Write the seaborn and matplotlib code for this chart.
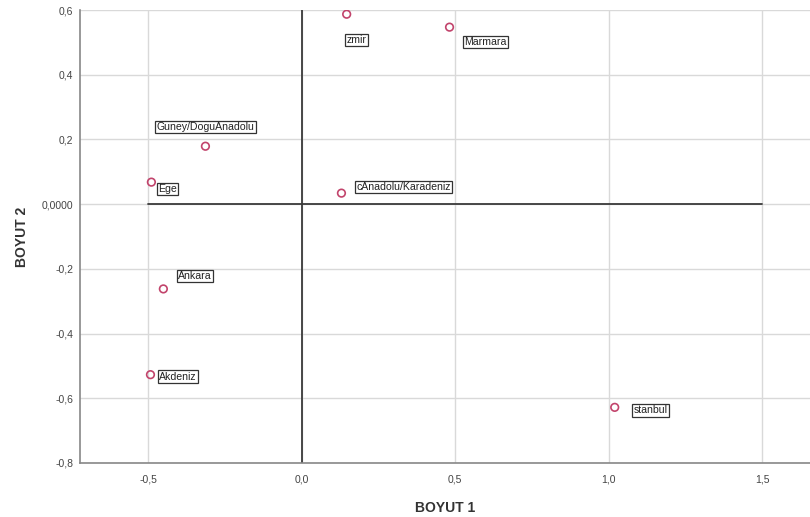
import matplotlib
matplotlib.use("Agg")
import matplotlib.pyplot as plt
import seaborn as sns
import pandas as pd
from matplotlib.ticker import FixedLocator, FixedFormatter

names = ["zmir", "Marmara", "Guney/DoguAnadolu", "Ege", "cAnadolu/Karadeniz",
         "Ankara", "Akdeniz", "stanbul"]
boyut1 = [0.147, 0.482, -0.313, -0.489, 0.130, -0.450, -0.492, 1.020]
boyut2 = [0.587, 0.547, 0.179, 0.068, 0.034, -0.262, -0.527, -0.628]

x_ticks = [-0.5, 0.0, 0.5, 1.0, 1.5]
x_tick_labels = ["-0,5", "0,0", "0,5", "1,0", "1,5"]
y_ticks = [-0.8, -0.6, -0.4, -0.2, 0.0, 0.2, 0.4, 0.6]
y_tick_labels = ["-0,8", "-0,6", "-0,4", "-0,2", "0,0000", "0,2", "0,4", "0,6"]

# label offsets in pixels (dx, dy) relative to point
offsets_px = [(0, -26), (15, -15), (-49, 19), (7, -7), (15, 6), (15, 13), (9, -2), (19, -3)]

df = pd.DataFrame({"BOYUT 1": boyut1, "BOYUT 2": boyut2, "name": names})

sns.set_theme(style="white")
plt.rcParams["font.family"] = ["Liberation Sans", "DejaVu Sans"]

fig = plt.figure(figsize=(8.1, 5.17), dpi=100)
ax = fig.add_axes([80/810, 54/517, 730/810, 453/517])

# grid
for xv in x_ticks:
    ax.axvline(xv, color="#d9d9d9", lw=1.0, zorder=0)
for yv in y_ticks:
    ax.axhline(yv, color="#d9d9d9", lw=1.0, zorder=0)

# reference lines
ax.plot([-0.5, 1.5], [0, 0], color="#3a3a3a", lw=1.3, zorder=1)
ax.axvline(0, color="#3a3a3a", lw=1.3, zorder=1)

sns.scatterplot(data=df, x="BOYUT 1", y="BOYUT 2", ax=ax, marker="o", s=30,
                zorder=3)
coll = ax.collections[0]
coll.set_facecolor("none")
coll.set_edgecolor("#c2446c")
coll.set_linewidth(1.2)

for n, xv, yv, (dx, dy) in zip(df["name"], df["BOYUT 1"], df["BOYUT 2"], offsets_px):
    ax.annotate(n, (xv, yv), xytext=(dx * 0.72, dy * 0.72), textcoords="offset points",
                ha="left", va="center", fontsize=7.6, color="#222222",
                bbox=dict(boxstyle="square,pad=0.12", fc="white", ec="#333333", lw=0.9),
                zorder=4)

ax.set_xlim(-0.7215, 1.656)
ax.set_ylim(-0.8, 0.6)
ax.xaxis.set_major_locator(FixedLocator(x_ticks))
ax.xaxis.set_major_formatter(FixedFormatter(x_tick_labels))
ax.yaxis.set_major_locator(FixedLocator(y_ticks))
ax.yaxis.set_major_formatter(FixedFormatter(y_tick_labels))
ax.tick_params(axis="y", labelsize=7.5, colors="#444444", length=0, pad=5)
ax.tick_params(axis="x", labelsize=7.5, colors="#444444", length=0, pad=8)

for side in ["top", "right"]:
    ax.spines[side].set_visible(False)
for side in ["left", "bottom"]:
    ax.spines[side].set_color("#888888")
    ax.spines[side].set_linewidth(1.2)

ax.set_xlabel("BOYUT 1", fontsize=10, fontweight="bold", color="#333333", labelpad=12)
ax.set_ylabel("BOYUT 2", fontsize=10, fontweight="bold", color="#333333", labelpad=9)

fig.savefig("out.png", dpi=100)
